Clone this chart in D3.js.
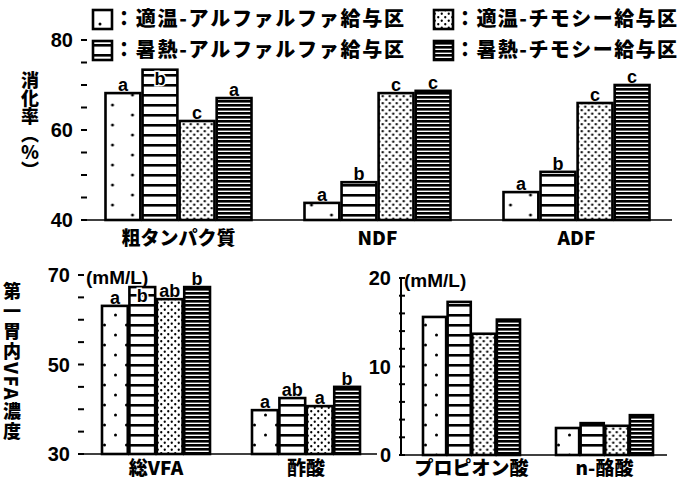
<!DOCTYPE html>
<html>
<head>
<meta charset="utf-8">
<script src="https://cdn.jsdelivr.net/npm/d3@7"></script>
<style>
body { margin: 0; background: #fff; }
text { fill: #000; }
</style>
</head>
<body>
<div id="chart"></div>
<script>
// series (4 treatments)
var seriesNames = ["適温-アルファルファ給与区", "暑熱-アルファルファ給与区", "適温-チモシー給与区", "暑熱-チモシー給与区"];

// top: digestibility (%)
var digestCats = ["粗タンパク質", "NDF", "ADF"];
var digestVals = [[68.2, 73.4, 62.0, 67.1], [43.8, 48.4, 68.2, 68.7], [46.2, 50.7, 66.0, 70.0]];
var digestLetters = [["a", "b", "c", "a"], ["a", "b", "c", "c"], ["a", "b", "c", "c"]];
var digestTicks = [40, 60, 80];

// bottom left: total VFA / acetic (mM/L)
var vfaCats = ["総VFA", "酢酸"];
var vfaVals = [[63.1, 67.3, 64.6, 67.3], [39.8, 42.5, 40.7, 45.0]];
var vfaLetters = [["a", "b", "ab", "b"], ["a", "ab", "a", "b"]];
var vfaTicks = [30, 50, 70];

// bottom right: propionic / n-butyric (mM/L)
var minorCats = ["プロピオン酸", "n-酪酸"];
var minorVals = [[15.6, 17.3, 13.7, 15.3], [3.05, 3.6, 3.3, 4.5]];
var minorTicks = [0, 10, 20];

var svg = d3.select("#chart")
        .append("svg")
        .attr("width", 687)
        .attr("height", 481);

var jp = "'Noto Sans CJK JP', sans-serif";
var num = "'Liberation Sans', Arial, sans-serif";

// fill patterns
var defs = svg.append("defs");
function pattern(id, w, h, x0) {
    var p = defs.append("pattern")
            .attr("id", id)
            .attr("patternUnits", "userSpaceOnUse")
            .attr("x", x0 || 0)
            .attr("width", w)
            .attr("height", h);
    p.append("rect").attr("width", w).attr("height", h).attr("fill", "#fff");
    return p;
}
// sparse dots, aligned to the first bar of each panel
function sparseDots(id, x0, gap) {
    var p = pattern(id, gap * 2, 20, x0);
    p.append("circle").attr("cx", gap / 2 - 3).attr("cy", 5).attr("r", 1.5);
    p.append("circle").attr("cx", gap * 1.5 - 3).attr("cy", 15).attr("r", 1.5);
}
var p1 = pattern("pat1", 10, 10);
p1.append("rect").attr("y", 4).attr("width", 10).attr("height", 2.6).attr("fill", "#000");
var p2 = pattern("pat2", 7, 7);
p2.append("circle").attr("cx", 1.75).attr("cy", 1.75).attr("r", 1.15);
p2.append("circle").attr("cx", 5.25).attr("cy", 5.25).attr("r", 1.15);
var p3 = pattern("pat3", 4, 4);
p3.append("rect").attr("y", 0).attr("width", 4).attr("height", 2.6).attr("fill", "#000");

// one bar panel
function panel(id, cats, vals, letters, inside, cfg) {
    var y = d3.scaleLinear().domain(cfg.domain).range([cfg.base, cfg.top]);
    var xg = d3.scaleBand().domain(cats).range(cfg.xRange);
    var xs = d3.scaleBand().domain(d3.range(4))
            .range([-cfg.groupW / 2, cfg.groupW / 2])
            .paddingInner(0.06);

    sparseDots("pat0_" + id, xs(0), cfg.dotGap);
    var fills = ["url(#pat0_" + id + ")", "url(#pat1)", "url(#pat2)", "url(#pat3)"];

    var g = svg.append("g");

    // baseline
    g.append("line")
            .attr("x1", cfg.axisX).attr("x2", cfg.xRange[1] - 4)
            .attr("y1", cfg.base).attr("y2", cfg.base)
            .attr("stroke", "#000").attr("stroke-width", 1.6);

    if (cfg.axisLine) {
        g.append("line")
                .attr("x1", cfg.axisX).attr("x2", cfg.axisX)
                .attr("y1", cfg.base).attr("y2", cfg.top)
                .attr("stroke", "#000").attr("stroke-width", 2);
    }

    // minor ticks
    g.selectAll(".tk")
            .data(d3.range(cfg.domain[0], cfg.domain[1] + 0.01, cfg.step))
            .enter()
            .append("line")
            .attr("x1", cfg.axisX - 2).attr("x2", cfg.axisX + 4)
            .attr("y1", (d) => y(d)).attr("y2", (d) => y(d))
            .attr("stroke", "#000").attr("stroke-width", 2);

    g.selectAll(".tl")
            .data(cfg.ticks)
            .enter()
            .append("text")
            .attr("x", cfg.axisX - 10)
            .attr("y", (d) => y(d))
            .attr("dy", "0.36em")
            .attr("text-anchor", "end")
            .style("font-family", num)
            .style("font-weight", "bold")
            .style("font-size", "20px")
            .text((d) => d);

    var group = g.selectAll(".grp")
            .data(cats)
            .enter()
            .append("g")
            .attr("transform", (d) => "translate(" + (xg(d) + xg.bandwidth() / 2) + ",0)");

    group.selectAll("rect")
            .data((d, i) => vals[i].map((v, j) => ({v: v, j: j, i: i})))
            .enter()
            .append("rect")
            .attr("x", (d) => xs(d.j))
            .attr("width", xs.bandwidth())
            .attr("y", (d) => y(d.v))
            .attr("height", (d) => cfg.base - y(d.v))
            .attr("fill", (d) => fills[d.j])
            .attr("stroke", "#000")
            .attr("stroke-width", 2.6);

    if (letters) {
        group.selectAll(".lt")
                .data((d, i) => vals[i].map((v, j) => ({v: v, j: j, i: i})))
                .enter()
                .append("text")
                .attr("x", (d) => xs(d.j) + xs.bandwidth() / 2)
                .attr("y", (d) => inside[d.i][d.j] ? y(d.v) + 15 : y(d.v) - 2)
                .attr("text-anchor", "middle")
                .style("font-family", num)
                .style("font-weight", "bold")
                .style("font-size", "18px")
                .style("paint-order", "stroke")
                .style("stroke", "#fff")
                .style("stroke-width", (d) => inside[d.i][d.j] ? 3 : 0)
                .text((d) => letters[d.i][d.j]);
    }

    g.selectAll(".cat")
            .data(cats)
            .enter()
            .append("text")
            .attr("x", (d) => xg(d) + xg.bandwidth() / 2)
            .attr("y", cfg.base + cfg.labelDy)
            .attr("text-anchor", "middle")
            .style("font-family", jp)
            .style("font-weight", 900)
            .style("font-size", "19px")
            .text((d) => d);
}

panel("a", digestCats, digestVals, digestLetters,
        [[0, 1, 0, 0], [0, 0, 0, 0], [0, 0, 0, 0]],
        {domain: [40, 80], base: 220, top: 40, step: 5, ticks: digestTicks,
         xRange: [79, 676], groupW: 146, axisX: 83, axisLine: false, labelDy: 25, dotGap: 20});

panel("b", vfaCats, vfaVals, vfaLetters,
        [[0, 1, 0, 0], [0, 0, 0, 0]],
        {domain: [30, 70], base: 454, top: 275, step: 5, ticks: vfaTicks,
         xRange: [81, 381], groupW: 108, axisX: 80, axisLine: false, labelDy: 21, dotGap: 11});

panel("c", minorCats, minorVals, null, null,
        {domain: [0, 20], base: 455, top: 278, step: 2, ticks: minorTicks,
         xRange: [405, 671], groupW: 97, axisX: 401, axisLine: true, labelDy: 20, dotGap: 11});

// unit labels
svg.append("text").attr("x", 86).attr("y", 284)
        .style("font-family", num).style("font-weight", "bold").style("font-size", "19px")
        .text("(mM/L)");
svg.append("text").attr("x", 404).attr("y", 287)
        .style("font-family", num).style("font-weight", "bold").style("font-size", "19px")
        .text("(mM/L)");

// vertical axis titles
svg.append("text")
        .attr("x", 30).attr("y", 125)
        .attr("text-anchor", "middle")
        .style("writing-mode", "vertical-rl")
        .style("font-family", jp).style("font-weight", 900).style("font-size", "18px")
        .text("消化率（％）");
svg.append("text")
        .attr("x", 12).attr("y", 362)
        .attr("text-anchor", "middle")
        .style("writing-mode", "vertical-rl")
        .style("text-orientation", "mixed")
        .style("font-family", jp).style("font-weight", 900).style("font-size", "18px")
        .style("letter-spacing", "2px")
        .text("第一胃内VFA濃度");

// legend
sparseDots("pat0_leg", 1, 20);
var legFills = ["url(#pat0_leg)", "url(#pat1)", "url(#pat2)", "url(#pat3)"];
var legPos = [[92, 19], [92, 50], [433, 19], [433, 50]];
var leg = svg.selectAll(".leg")
        .data(seriesNames)
        .enter()
        .append("g")
        .attr("transform", (d, i) => "translate(" + legPos[i][0] + "," + legPos[i][1] + ")");
leg.append("rect")
        .attr("x", 1).attr("y", -9)
        .attr("width", 19).attr("height", 19)
        .attr("fill", (d, i) => legFills[i])
        .attr("stroke", "#000").attr("stroke-width", 2.6);
leg.append("text")
        .attr("x", 22).attr("y", 0)
        .attr("dy", "0.36em")
        .attr("textLength", (d) => d.length > 11 ? 290 : 222)
        .style("font-family", jp).style("font-weight", 900).style("font-size", "20px")
        .text((d) => "：" + d);
</script>
</body>
</html>
